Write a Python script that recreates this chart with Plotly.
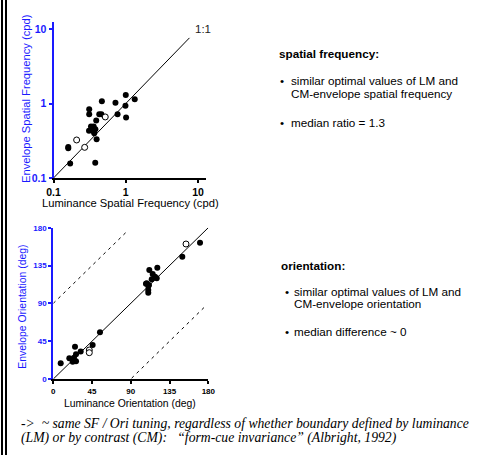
import plotly.graph_objects as go

# ---------------- data ----------------
# Spatial frequency (cpd): luminance vs envelope
sf_lum_filled = [0.16, 0.16, 0.17, 0.312, 0.312, 0.467, 0.72, 1.0, 1.33, 0.99, 1.01, 0.77,
                 0.43, 0.46, 0.39, 0.33, 0.36, 0.31, 0.35, 0.38, 0.366, 0.395, 0.378]
sf_env_filled = [0.25, 0.26, 0.157, 0.836, 0.716, 1.07, 1.02, 1.30, 1.14, 0.93, 0.65, 0.72,
                 0.72, 0.72, 0.59, 0.49, 0.49, 0.43, 0.43, 0.45, 0.40, 0.33, 0.16]
sf_lum_open = [0.209, 0.27, 0.52]
sf_env_open = [0.324, 0.258, 0.66]
sf_unity = [0.1, 7.6]

# Orientation (deg): luminance vs envelope
ori_lum_filled = [8.6, 18.6, 22.5, 26.4, 24.0, 26.4, 25.2, 31.8, 45.7, 54.2,
                  107.6, 110.3, 111.5, 120.8, 115.4, 118.1, 120.1, 114.3, 108.5, 111.1,
                  110.3, 110.3, 149.8, 170.4]
ori_env_filled = [18.7, 24.6, 20.6, 21.0, 25.3, 29.4, 38.4, 32.7, 40.4, 55.6,
                  113.4, 110.6, 129.7, 132.4, 124.9, 121.7, 119.8, 118.6, 113.9, 111.8,
                  105.9, 102.7, 145.5, 162.2]
ori_lum_open = [41.8, 41.8, 154.1]
ori_env_open = [34.5, 31.3, 160.6]
ori_unity_x = [0, 180]
ori_unity_y = [0, 180]
ori_upper_x = [0, 87]
ori_upper_y = [90, 177]
ori_lower_x = [91, 178]
ori_lower_y = [1, 88]

sf_ticks = [0.1, 1, 10]
sf_ticklabels = ["0.1", "1", "10"]
ori_ticks = [0, 45, 90, 135, 180]

W, H = 479, 455
BLUE = "#1a1aff"
FONT = "Arial, Liberation Sans, sans-serif"

def px(x):
    return x / W

def py(y):
    return 1 - y / H

fig = go.Figure()

mk_f = dict(size=6, color="black", line=dict(width=0))
mk_o = dict(size=6, color="white", line=dict(width=1, color="black"))

# page border (double rule at the left edge), drawn on a full-page overlay axis
for xv in [2, 6]:
    fig.add_trace(go.Scatter(x=[xv, xv], y=[0, H], mode="lines",
                             line=dict(color="black", width=2),
                             xaxis="x3", yaxis="y3", hoverinfo="skip"))

# top plot
fig.add_trace(go.Scatter(x=sf_unity, y=sf_unity, mode="lines",
                         line=dict(color="black", width=1), xaxis="x", yaxis="y"))
fig.add_trace(go.Scatter(x=sf_lum_filled, y=sf_env_filled, mode="markers", marker=mk_f,
                         xaxis="x", yaxis="y"))
fig.add_trace(go.Scatter(x=sf_lum_open, y=sf_env_open, mode="markers", marker=mk_o,
                         xaxis="x", yaxis="y"))

# bottom plot
fig.add_trace(go.Scatter(x=ori_unity_x, y=ori_unity_y, mode="lines",
                         line=dict(color="black", width=1), xaxis="x2", yaxis="y2"))
for xs, ys in [(ori_upper_x, ori_upper_y), (ori_lower_x, ori_lower_y)]:
    fig.add_trace(go.Scatter(x=xs, y=ys, mode="lines",
                             line=dict(color="black", width=1, dash="3px,4px"),
                             xaxis="x2", yaxis="y2"))
fig.add_trace(go.Scatter(x=ori_lum_filled, y=ori_env_filled, mode="markers", marker=mk_f,
                         xaxis="x2", yaxis="y2"))
fig.add_trace(go.Scatter(x=ori_lum_open, y=ori_env_open, mode="markers", marker=mk_o,
                         xaxis="x2", yaxis="y2"))

common = dict(showgrid=False, zeroline=False, showline=True, linewidth=2,
              ticks="outside", ticklen=3, tickwidth=1.5, automargin=False)

fig.update_layout(
    template="none",
    width=W, height=H, margin=dict(l=0, r=0, t=0, b=0, pad=0),
    paper_bgcolor="white", plot_bgcolor="rgba(0,0,0,0)", showlegend=False,
    font=dict(family=FONT, color="black"),
    xaxis=dict(domain=[px(53.5), px(206)], anchor="y", type="log", range=[-1, 1.11],
               tickvals=sf_ticks, ticktext=sf_ticklabels, linecolor="black",
               tickcolor="black", tickfont=dict(size=10.5, color="black", family=FONT, weight="bold"),
               **common),
    yaxis=dict(domain=[py(178), py(22)], anchor="x", type="log", range=[-1, 1.094],
               tickvals=sf_ticks, ticktext=sf_ticklabels, linecolor=BLUE,
               tickcolor=BLUE, tickfont=dict(size=10.5, color=BLUE, family=FONT, weight="bold"),
               **common),
    xaxis2=dict(domain=[px(53.3), px(208.3)], anchor="y2", range=[0, 180],
                tickvals=ori_ticks, linecolor="black", tickcolor="black",
                tickfont=dict(size=8, color="black", family=FONT, weight="bold"),
                **common),
    yaxis2=dict(domain=[py(379), py(227.7)], anchor="x2", range=[0, 180],
                tickvals=ori_ticks, linecolor=BLUE, tickcolor=BLUE,
                tickfont=dict(size=8, color=BLUE, family=FONT, weight="bold"),
                **common),
    xaxis3=dict(domain=[0, 1], anchor="y3", range=[0, W], visible=False, fixedrange=True),
    yaxis3=dict(domain=[0, 1], anchor="x3", range=[0, H], visible=False, fixedrange=True),
)

ann = []
def text(x, y, s, size, color="black", angle=0, xanchor="left", bold=False, italic=False,
         family=FONT):
    if bold:
        s = "<b>" + s + "</b>"
    if italic:
        s = "<i>" + s + "</i>"
    ann.append(dict(x=px(x), y=py(y), xref="paper", yref="paper", text=s, showarrow=False,
                    xanchor=xanchor, yanchor="middle", textangle=angle,
                    font=dict(size=size, color=color, family=family)))

# axis titles
text(26, 99, "Envelope Spatial Frequency (cpd)", 11.2, BLUE, angle=-90, xanchor="center")
text(130, 203, "Luminance Spatial Frequency (cpd)", 11.2, xanchor="center")
text(21.7, 307, "Envelope Orientation (deg)", 10.4, BLUE, angle=-90, xanchor="center")
text(130, 403, "Luminance Orientation (deg)", 10.4, xanchor="center")
text(193, 29, "1:1", 11.5, "#222222")

# right-side notes
NS = 11.7
text(276.5, 53, "spatial frequency:", NS, bold=True)
text(278, 80, "•", NS)
text(289, 80, "similar optimal values of LM and", NS)
text(289, 94, "CM-envelope spatial frequency", NS)
text(278, 123, "•", NS)
text(289, 123, "median ratio = 1.3", NS)

text(279, 265, "orientation:", NS, bold=True)
text(283, 291, "•", NS)
text(292, 291, "similar optimal values of LM and", NS)
text(292, 303, "CM-envelope orientation", NS)
text(283, 331, "•", NS)
text(292, 331, "median difference ~ 0", NS)

# bottom note
SERIF = "Liberation Serif, Times New Roman, serif"
text(19, 423, "->  ~ same SF / Ori tuning, regardless of whether boundary defined by luminance",
     13.7, italic=True, family=SERIF)
text(19, 438, "(LM) or by contrast (CM):   \u201cform-cue invariance\u201d (Albright, 1992)",
     13.7, italic=True, family=SERIF)

fig.update_layout(annotations=ann)

fig.write_html("out.html", config={"displayModeBar": False},
               post_script="document.body.style.margin='0';document.body.style.overflow='hidden';")
